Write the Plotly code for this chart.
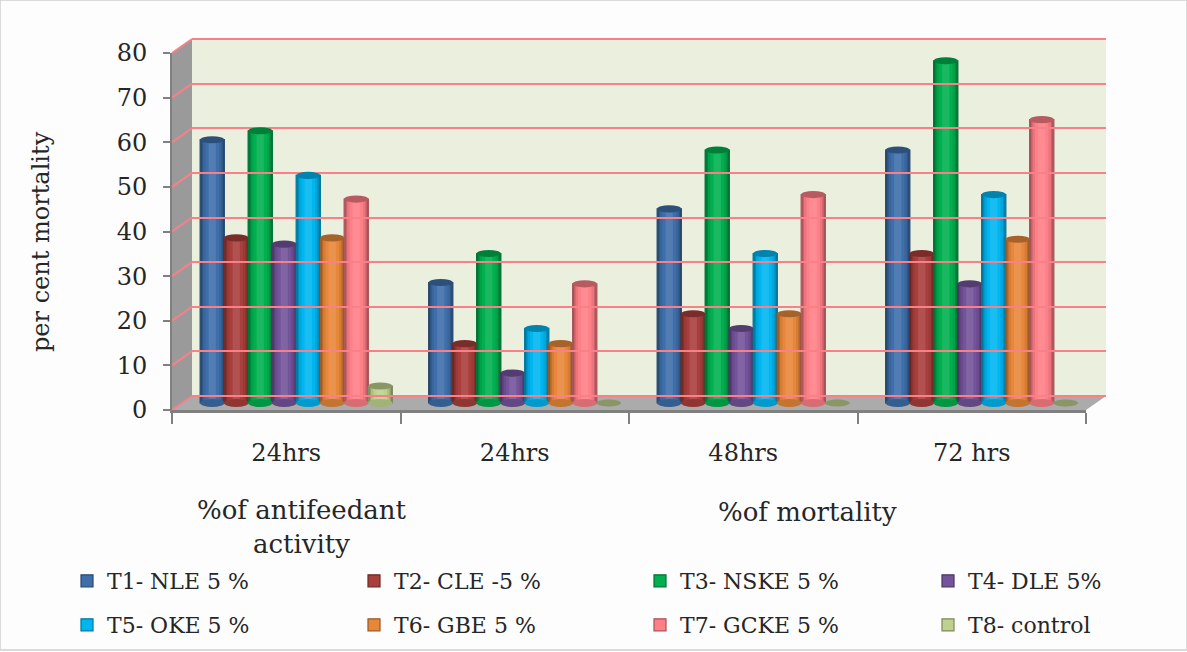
import plotly.graph_objects as go

W, H = 1187, 652
FONT = "DejaVu Serif"
TXT = "#262626"

tick_labels = ["24hrs", "24hrs", "48hrs", "72 hrs"]
series_names = ["T1- NLE 5 %", "T2- CLE -5 %", "T3- NSKE 5 %", "T4- DLE 5%",
                "T5- OKE 5 %", "T6- GBE 5 %", "T7- GCKE 5 %", "T8- control"]
t1 = [59, 27, 43.5, 56.7]
t2 = [37, 13.3, 20, 33.5]
t3 = [61, 33.5, 56.7, 76.7]
t4 = [35.6, 6.7, 16.7, 26.7]
t5 = [51, 16.7, 33.5, 46.7]
t6 = [37, 13.3, 20, 36.7]
t7 = [45.7, 26.7, 46.7, 63.5]
t8 = [3.8, 0, 0, 0]
series_values = [t1, t2, t3, t4, t5, t6, t7, t8]
base_colors = ["#3E6FAA", "#A83F3C", "#00B04F", "#73539A", "#00B6F0", "#E8873A", "#FF7F87", "#BFD18E"]
y_ticks = [0, 10, 20, 30, 40, 50, 60, 70, 80]


def px(x):
    return x / W


def py(y):
    return 1 - y / H


def mix(c, other, t):
    a = [int(c[i:i + 2], 16) for i in (1, 3, 5)]
    b = [int(other[i:i + 2], 16) for i in (1, 3, 5)]
    return "#%02X%02X%02X" % tuple(round(p + (q - p) * t) for p, q in zip(a, b))


STEP = 24 / 228.5
BAR_W = 0.106
SHADES = [(0.96, 0.38, "#000000"), (0.88, 0.22, "#000000"), (0.76, 0.08, "#000000"),
          (0.56, 0.0, "#000000"), (0.30, 0.10, "#FFFFFF")]

fig = go.Figure()
shapes = []

shapes.append(dict(type="rect", xref="paper", yref="paper", x0=0, x1=1, y0=py(650), y1=1,
                   line=dict(color="#CFCFCF", width=1.5), fillcolor="rgba(0,0,0,0)", layer="below"))
shapes.append(dict(type="rect", xref="paper", yref="paper", x0=px(192), x1=px(1106), y0=py(396), y1=py(39),
                   fillcolor="#EBF0DE", line_width=0, layer="below"))


def poly(pts, fill):
    d = "M " + " L ".join(f"{px(x):.5f},{py(y):.5f}" for x, y in pts) + " Z"
    return dict(type="path", xref="paper", yref="paper", path=d, fillcolor=fill, line_width=0, layer="below")


shapes.append(poly([(172, 410), (192, 396), (192, 39), (172, 53)], "#9A9A9A"))
shapes.append(poly([(172, 410), (192, 396), (1106, 396), (1086, 410)], "#ABABAB"))
for v in y_ticks:
    yf = 410 - v * 4.4625
    shapes.append(dict(type="line", xref="paper", yref="paper", x0=px(172), x1=px(192), y0=py(yf), y1=py(yf - 14),
                       line=dict(color="#F98088", width=2), layer="below"))

for i, (name, vals, col) in enumerate(zip(series_names, series_values, base_colors)):
    xs = [g + (i - 3.5) * STEP for g in range(len(tick_labels))]
    leg = "legend" if i == 0 else f"legend{i + 1}"
    fig.add_trace(go.Bar(x=xs, y=vals, width=BAR_W, name=name, legend=leg, xaxis="x2", yaxis="y2",
                         marker=dict(color=col, line=dict(color=mix(col, "#000000", 0.35), width=1.2)),
                         hoverinfo="skip"))
    for frac, amt, tone in SHADES:
        fig.add_trace(go.Bar(x=xs, y=vals, width=BAR_W * frac, showlegend=False, xaxis="x2", yaxis="y2",
                             marker=dict(color=mix(col, tone, amt), line_width=0), hoverinfo="skip"))
    for x, v in zip(xs, vals):
        hw = BAR_W / 2
        if v > 0:
            shapes.append(dict(type="circle", xref="x2", yref="y2", x0=x - hw, x1=x + hw, y0=-0.9, y1=0.9,
                               fillcolor=mix(col, "#000000", 0.15), line_width=0, layer="above"))
        shapes.append(dict(type="circle", xref="x2", yref="y2", x0=x - hw, x1=x + hw, y0=v - 0.8, y1=v + 0.8,
                           fillcolor=mix(col, "#000000", 0.28), line_width=0, layer="above"))

legend_font = dict(family=FONT, size=22, color=TXT)
legend_cols = [67, 354, 640, 928]
legend_rows = [581, 625]
legends = {}
for i in range(8):
    key = "legend" if i == 0 else f"legend{i + 1}"
    legends[key] = dict(x=px(legend_cols[i % 4]), y=py(legend_rows[i // 4]), xanchor="left", yanchor="middle",
                        bgcolor="rgba(0,0,0,0)", font=legend_font)

label_font = dict(family=FONT, size=26, color=TXT)
layout = dict(
    width=W, height=H, margin=dict(l=0, r=0, t=0, b=0, autoexpand=False), autosize=False,
    paper_bgcolor="#FDFDFD", plot_bgcolor="rgba(0,0,0,0)", barmode="overlay",
    shapes=shapes, font=dict(family=FONT, color=TXT),
    xaxis=dict(domain=[px(172), px(1086)], range=[-0.5, 3.5], tickmode="array",
               tickvals=list(range(4)), ticktext=tick_labels, ticks="outside", ticklen=19,
               tickcolor="rgba(0,0,0,0)", tickfont=dict(family=FONT, size=24, color=TXT),
               showline=True, linecolor="#808080", linewidth=2.5, showgrid=False, zeroline=False,
               minor=dict(tickmode="array", tickvals=[-0.5, 0.5, 1.5, 2.5, 3.5], ticks="outside",
                          ticklen=11, tickcolor="#808080", tickwidth=2), automargin=False),
    yaxis=dict(domain=[py(410), py(53)], range=[0, 80], tickmode="array", tickvals=y_ticks,
               ticks="outside", ticklen=7, tickcolor="#808080", tickwidth=2, ticklabelstandoff=11,
               tickfont=dict(family=FONT, size=24, color=TXT),
               showline=True, linecolor="#808080", linewidth=2, showgrid=False, zeroline=False, automargin=False),
    xaxis2=dict(domain=[px(182), px(1096)], range=[-0.5, 3.5], visible=False, anchor="y2"),
    yaxis2=dict(domain=[py(425.3), py(23.7)], range=[-5, 85], visible=False, anchor="x2"),
    xaxis3=dict(domain=[px(192), px(1106)], range=[-0.5, 3.5], visible=False, anchor="y3"),
    yaxis3=dict(domain=[py(404.9), py(30.1)], range=[-2, 82], anchor="x3", tickmode="array", tickvals=y_ticks,
                showticklabels=False, ticks="", showgrid=True, gridcolor="#F98088", gridwidth=2,
                zeroline=False, showline=False),
    annotations=[
        dict(text="per cent mortality", xref="paper", yref="paper", x=px(41), y=py(242), textangle=-90,
             xanchor="center", yanchor="middle", showarrow=False, font=dict(family=FONT, size=24, color=TXT)),
        dict(text="%of antifeedant<br>activity", xref="x", yref="paper", x=0.07, y=py(527), showarrow=False,
             xanchor="center", yanchor="middle", font=label_font, align="center"),
        dict(text="%of mortality", xref="x", yref="paper", x=2.28, y=py(512), showarrow=False,
             xanchor="center", yanchor="middle", font=label_font),
    ],
    **legends,
)
fig.update_layout(**layout)
fig.add_trace(go.Scatter(x=[None], y=[None], xaxis="x3", yaxis="y3", showlegend=False, hoverinfo="skip"))
fig.add_trace(go.Scatter(x=[None], y=[None], xaxis="x", yaxis="y", showlegend=False, hoverinfo="skip"))

fig.write_html("out.html", config={"displayModeBar": False},
               post_script="document.body.style.margin='0';document.body.style.overflow='hidden';")
